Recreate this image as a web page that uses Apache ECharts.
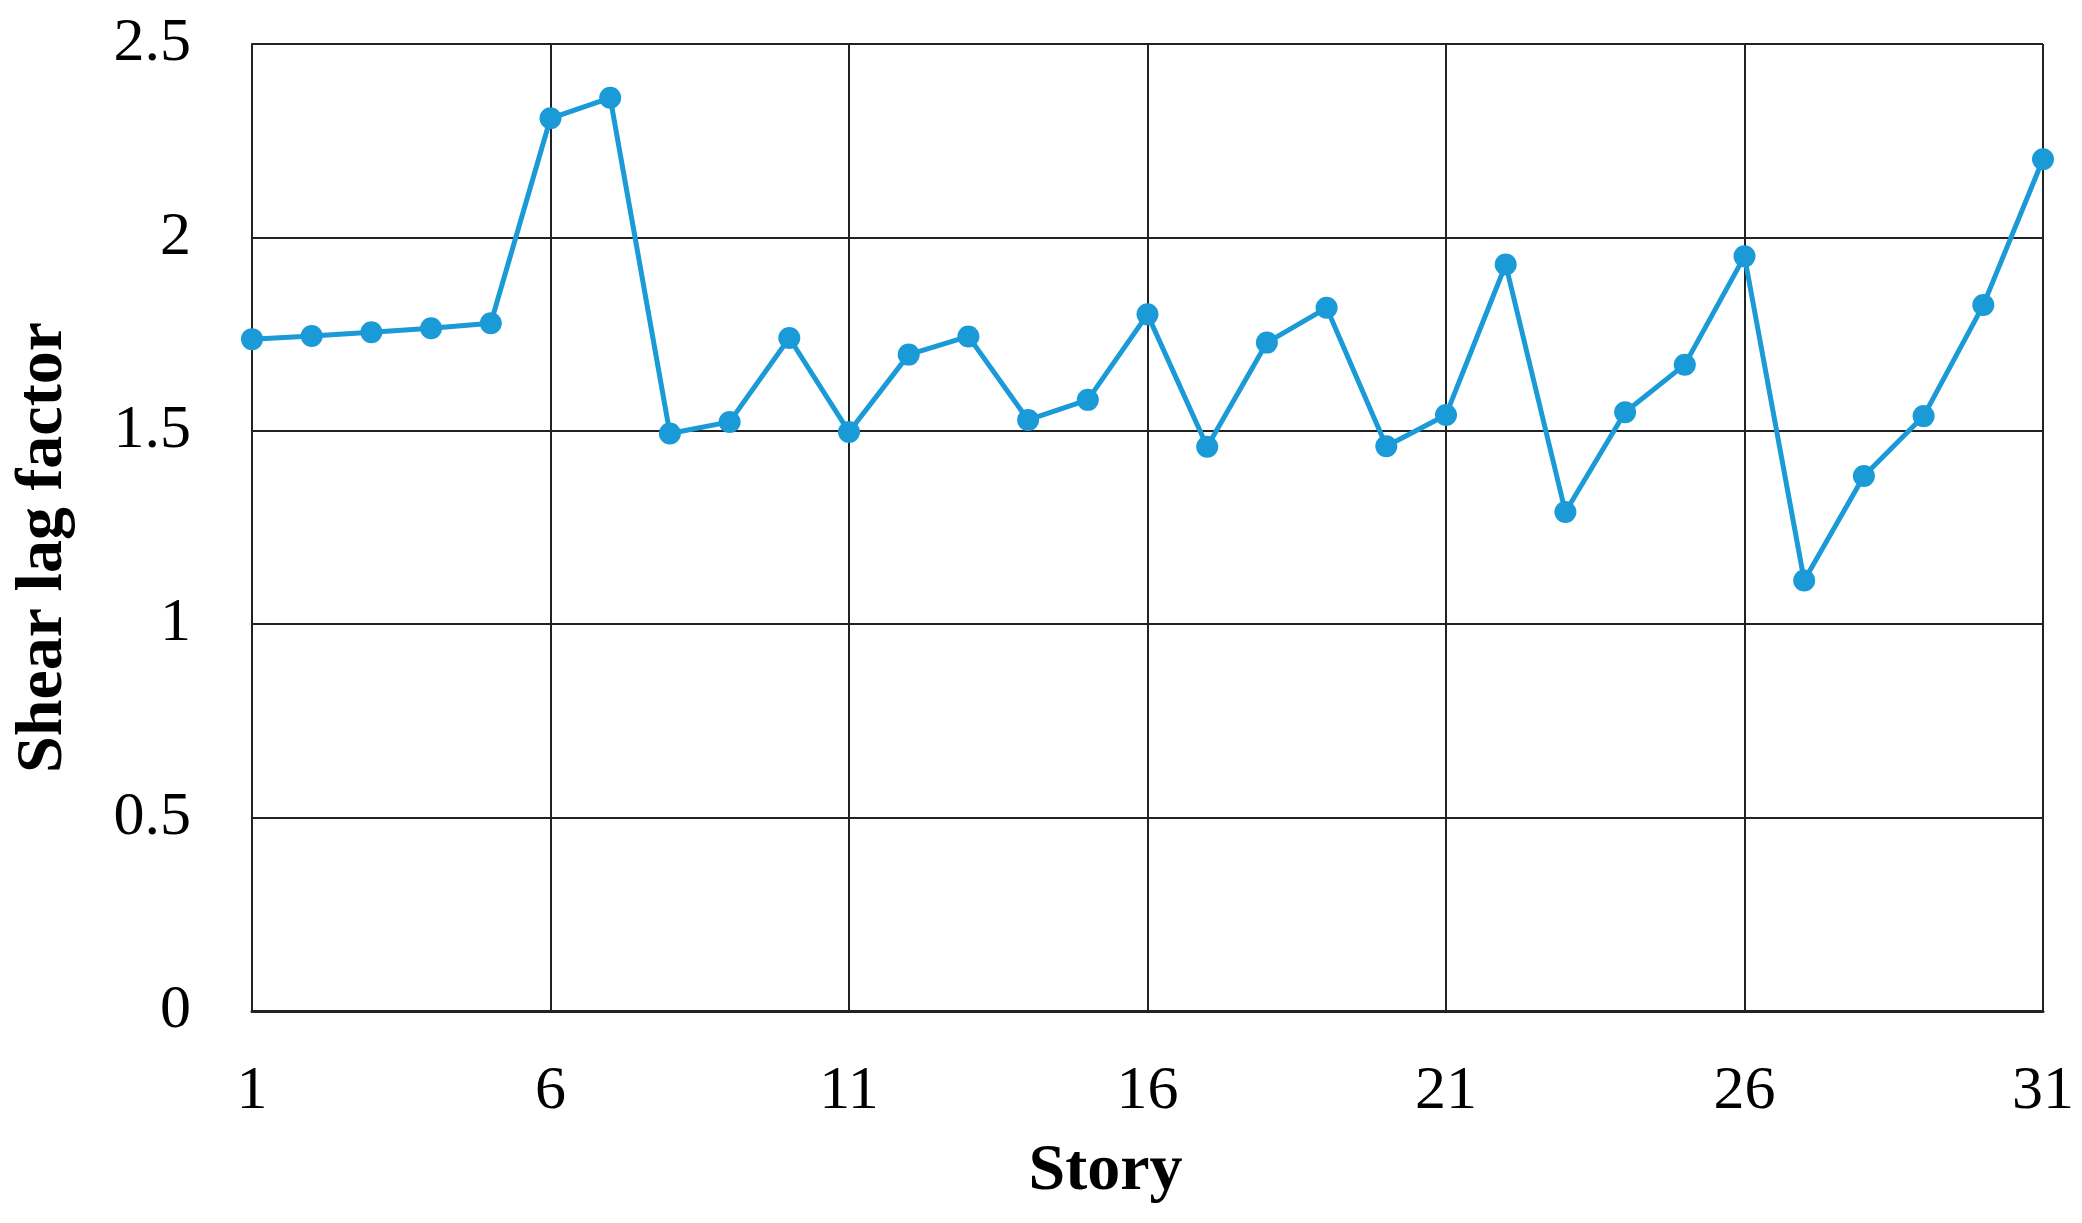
<!DOCTYPE html>
<html>
<head>
<meta charset="utf-8">
<script src="https://cdn.jsdelivr.net/npm/echarts@6/dist/echarts.min.js"></script>
<style>
  html, body { margin: 0; padding: 0; background: #fff; }
  #main { width: 2082px; height: 1223px; }
</style>
</head>
<body>
<div id="main"></div>
<script>
// story numbers 1..31
const stories = ['1','2','3','4','5','6','7','8','9','10','11','12','13','14','15','16',
  '17','18','19','20','21','22','23','24','25','26','27','28','29','30','31'];
const shearLag = [1.737, 1.745, 1.755, 1.765, 1.778, 2.308, 2.361, 1.493, 1.523, 1.740,
  1.497, 1.697, 1.744, 1.528, 1.580, 1.801, 1.459, 1.728, 1.818, 1.460, 1.541, 1.930,
  1.290, 1.548, 1.671, 1.951, 1.113, 1.383, 1.538, 1.825, 2.202];

const font = '"Liberation Serif", "Times New Roman", serif';
const chart = echarts.init(document.getElementById('main'));
chart.setOption({
  animation: false,
  grid: {left: 252, right: 39, top: 44, bottom: 212, outerBoundsMode: 'none'},
  xAxis: {
    type: 'category',
    data: stories,
    boundaryGap: false,
    name: 'Story',
    nameLocation: 'middle',
    nameGap: 128,
    nameTextStyle: {fontFamily: font, fontSize: 66, fontWeight: 'bold', color: '#000',
      padding: [0, 84, 0, 0]},
    axisLine: {lineStyle: {color: '#222', width: 3}},
    axisTick: {show: false},
    axisLabel: {interval: 4, margin: 50, fontFamily: font, fontSize: 62, color: '#000'},
    splitLine: {show: true, interval: 4, lineStyle: {color: '#222', width: 2}}
  },
  yAxis: {
    type: 'value',
    min: 0,
    max: 2.5,
    interval: 0.5,
    name: 'Shear lag factor',
    nameLocation: 'middle',
    nameGap: 175,
    nameTextStyle: {fontFamily: font, fontSize: 66, fontWeight: 'bold', color: '#000',
      padding: [0, 40, 0, 0]},
    axisLine: {show: true, lineStyle: {color: '#222', width: 2}},
    axisTick: {show: false},
    axisLabel: {margin: 61, fontFamily: font, fontSize: 62, color: '#000'},
    splitLine: {lineStyle: {color: '#222', width: 2}}
  },
  series: [{
    type: 'line',
    data: shearLag,
    symbol: 'circle',
    symbolSize: 22,
    itemStyle: {color: '#1A9AD7'},
    lineStyle: {color: '#1A9AD7', width: 5}
  }]
});
</script>
</body>
</html>
